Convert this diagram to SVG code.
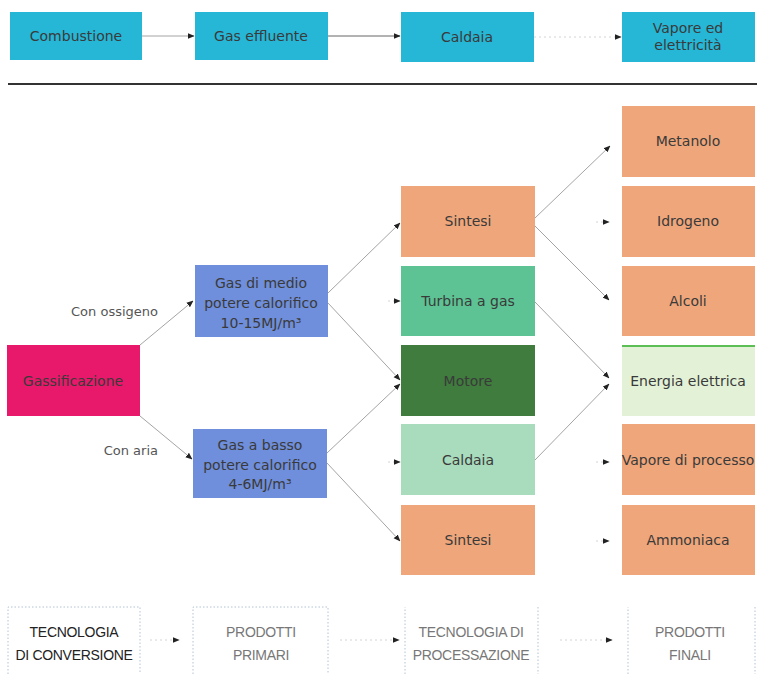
<svg xmlns="http://www.w3.org/2000/svg" width="757" height="674" viewBox="0 0 757 674">
<defs>
<marker id="ah" viewBox="0 0 10 10" refX="9" refY="5" markerWidth="7" markerHeight="7" orient="auto" markerUnits="userSpaceOnUse">
<path d="M0,1 L10,5 L0,9 z" fill="#222"/>
</marker>
<style>
.t{font-family:"DejaVu Sans","Liberation Sans",Arial,sans-serif;font-size:14px;fill:#3a3a3a;text-anchor:middle}
.lb{font-family:"DejaVu Sans","Liberation Sans",Arial,sans-serif;font-size:13px;fill:#555;text-anchor:end}
.lg{font-family:"Liberation Sans",Arial,sans-serif;font-size:14px;fill:#222;text-anchor:middle;letter-spacing:-0.3px}
.lgg{fill:#777}
.cy{fill:#26b6d6}
.or{fill:#efa67a}
.bl{fill:#6f8edb}
.c{stroke:#9a9a9a;stroke-width:0.9;fill:none;marker-end:url(#ah)}
.cf{stroke:#cfcfcf;stroke-width:0.9;fill:none;stroke-dasharray:2 3;marker-end:url(#ah)}
.leg{fill:none;stroke:#9fb4c8;stroke-width:0.8;stroke-dasharray:1.5 2}
</style>
</defs>
<rect width="757" height="674" fill="#ffffff"/>

<!-- Top row -->
<g id="combustione"><rect class="cy" x="10" y="12" width="132" height="48"/><text class="t" x="76" y="41">Combustione</text></g>
<g id="gas-effluente"><rect class="cy" x="195" y="12" width="133" height="48"/><text class="t" x="261" y="41">Gas effluente</text></g>
<g id="caldaia-top"><rect class="cy" x="401" y="12" width="133" height="50"/><text class="t" x="467" y="42">Caldaia</text></g>
<g id="vapore-elettricita"><rect class="cy" x="622" y="12" width="133" height="50"/><text class="t" x="688" y="33" font-size="12">Vapore ed</text><text class="t" x="688" y="50" font-size="12">elettricità</text></g>

<line x1="8" y1="84" x2="757" y2="84" stroke="#333" stroke-width="2"/>

<!-- Middle -->
<g id="gassificazione"><rect x="7" y="345" width="133" height="71" fill="#e8196b"/><text class="t" x="73" y="386" font-size="13">Gassificazione</text></g>
<g id="gas-medio"><rect class="bl" x="195" y="265" width="133" height="72"/>
<text class="t" x="261" y="288">Gas di medio</text><text class="t" x="261" y="308">potere calorifico</text><text class="t" x="261" y="328">10-15MJ/m³</text></g>
<g id="gas-basso"><rect class="bl" x="193" y="429" width="134" height="69"/>
<text class="t" x="260" y="450">Gas a basso</text><text class="t" x="260" y="470">potere calorifico</text><text class="t" x="260" y="489">4-6MJ/m³</text></g>

<g id="sintesi1"><rect class="or" x="401" y="186" width="134" height="71"/><text class="t" x="468" y="226">Sintesi</text></g>
<g id="turbina"><rect x="401" y="266" width="134" height="70" fill="#5dc394"/><text class="t" x="468" y="306">Turbina a gas</text></g>
<g id="motore"><rect x="401" y="345" width="134" height="71" fill="#3f7c3d"/><text class="t" x="468" y="386">Motore</text></g>
<g id="caldaia"><rect x="401" y="424" width="134" height="71" fill="#a9dcbd"/><text class="t" x="468" y="465">Caldaia</text></g>
<g id="sintesi2"><rect class="or" x="401" y="505" width="134" height="70"/><text class="t" x="468" y="545">Sintesi</text></g>

<g id="metanolo"><rect class="or" x="622" y="106" width="133" height="71"/><text class="t" x="688" y="146">Metanolo</text></g>
<g id="idrogeno"><rect class="or" x="622" y="186" width="133" height="71"/><text class="t" x="688" y="226">Idrogeno</text></g>
<g id="alcoli"><rect class="or" x="622" y="266" width="133" height="70"/><text class="t" x="688" y="306">Alcoli</text></g>
<g id="energia"><rect x="622" y="345" width="133" height="71" fill="#e3f2d7"/><line x1="622" y1="346" x2="755" y2="346" stroke="#5cbf55" stroke-width="2"/><text class="t" x="688" y="386">Energia elettrica</text></g>
<g id="vapore-processo"><rect class="or" x="622" y="424" width="133" height="71"/><text class="t" x="688" y="465">Vapore di processo</text></g>
<g id="ammoniaca"><rect class="or" x="622" y="505" width="133" height="70"/><text class="t" x="688" y="545">Ammoniaca</text></g>

<!-- Legend -->
<g id="leg-conv"><path class="leg" d="M8,674 V607 H140 V674"/><text class="lg" x="74" y="637">TECNOLOGIA</text><text class="lg" x="74" y="660">DI CONVERSIONE</text></g>
<g id="leg-primari"><path class="leg" d="M193,674 V607 H328 V674"/><text class="lg lgg" x="261" y="637">PRODOTTI</text><text class="lg lgg" x="261" y="660">PRIMARI</text></g>
<g id="leg-proc"><path class="leg" d="M405,674 V607 M538,607 V674"/><text class="lg lgg" x="471" y="637">TECNOLOGIA DI</text><text class="lg lgg" x="471" y="660">PROCESSAZIONE</text></g>
<g id="leg-finali"><path class="leg" d="M628,674 V607 M755,607 V674"/><text class="lg lgg" x="690" y="637">PRODOTTI</text><text class="lg lgg" x="690" y="660">FINALI</text></g>

<!-- Connectors -->
<g id="connectors">
<line class="c" x1="142" y1="36" x2="194" y2="36"/>
<line class="c" x1="328" y1="36" x2="400" y2="36" style="stroke:#555"/>
<line class="cf" x1="534" y1="37" x2="621" y2="37"/>
<text class="lb" x="158" y="316">Con ossigeno</text>
<text class="lb" x="158" y="455">Con aria</text>
<line class="c" x1="140" y1="345" x2="193" y2="301"/>
<line class="c" x1="140" y1="416" x2="192" y2="459"/>
<line class="c" x1="328" y1="293" x2="400" y2="223"/>
<line class="c" x1="328" y1="303" x2="400" y2="380"/>
<line class="c" x1="327" y1="453" x2="400" y2="384"/>
<line class="c" x1="327" y1="463" x2="400" y2="541"/>
<line class="cf" x1="388" y1="301" x2="400" y2="301"/>
<line class="cf" x1="388" y1="462" x2="400" y2="462"/>
<line class="c" x1="535" y1="218" x2="610" y2="146"/>
<line class="cf" x1="596" y1="222" x2="609" y2="222"/>
<line class="c" x1="535" y1="226" x2="609" y2="300"/>
<line class="c" x1="535" y1="302" x2="609" y2="378"/>
<line class="c" x1="535" y1="460" x2="609" y2="384"/>
<line class="cf" x1="596" y1="462" x2="609" y2="462"/>
<line class="cf" x1="596" y1="541" x2="609" y2="541"/>
<line class="cf" x1="150" y1="640" x2="179" y2="640"/>
<line class="cf" x1="340" y1="640" x2="399" y2="640"/>
<line class="cf" x1="560" y1="640" x2="612" y2="640"/>
</g>
</svg>
